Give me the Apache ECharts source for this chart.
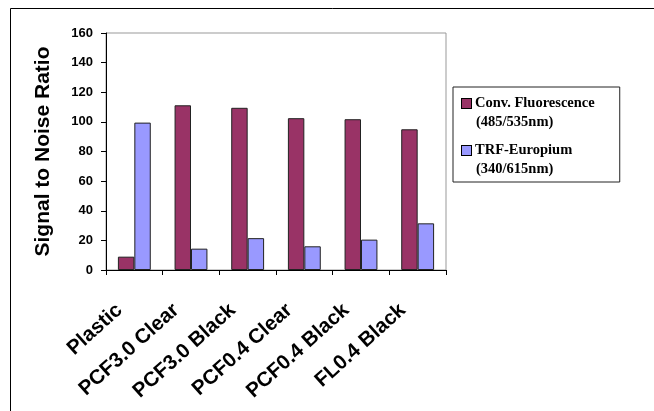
<!DOCTYPE html>
<html>
<head>
<meta charset="utf-8">
<script src="https://cdn.jsdelivr.net/npm/echarts@6/dist/echarts.min.js"></script>
<style>
html,body{margin:0;padding:0;background:#fff;}
#c{width:654px;height:411px;}
</style>
</head>
<body>
<div id="c"></div>
<script>
var categories = ['Plastic', 'PCF3.0 Clear', 'PCF3.0 Black', 'PCF0.4 Clear', 'PCF0.4 Black', 'FL0.4 Black'];
var convFluorescence = [9, 111.2, 109.5, 102.5, 101.8, 95];
var trfEuropium = [99.5, 14.4, 21.5, 16, 20.5, 31.5];
var seriesNames = ['Conv. Fluorescence', 'TRF-Europium'];
var seriesSubtitles = ['(485/535nm)', '(340/615nm)'];
var yTicks = [0, 20, 40, 60, 80, 100, 120, 140, 160];

var colors = ['#993366', '#9999FF'];
var chart = echarts.init(document.getElementById('c'), null, {renderer: 'canvas'});
var sans = '"Liberation Sans", Arial, Helvetica, sans-serif';
var serif = '"Liberation Serif", "Times New Roman", serif';

chart.setOption({
  animation: false,
  backgroundColor: '#fff',
  graphic: [{
    type: 'rect',
    shape: {x: 10.5, y: 8.5, width: 700, height: 500},
    style: {fill: 'none', stroke: '#000', lineWidth: 1},
    silent: true
  }],
  grid: {
    left: 106, top: 33, right: 208, bottom: 141,
    show: true, borderColor: '#999', borderWidth: 1, backgroundColor: 'transparent',
    containLabel: false
  },
  legend: {
    left: 453, top: 87,
    orient: 'vertical',
    icon: 'none',
    itemWidth: 0, itemHeight: 0,
    itemGap: 9,
    padding: [7, 25, 3, 4],
    borderColor: '#222', borderWidth: 1,
    backgroundColor: '#fff',
    data: seriesNames,
    formatter: function (name) {
      var i = seriesNames.indexOf(name);
      return '{m' + i + '|}{g|}{t|' + name + '}\n{s|}{t|' + seriesSubtitles[i] + '}';
    },
    textStyle: {
      fontFamily: serif, fontWeight: 'bold', fontSize: 14.5, color: '#000',
      lineHeight: 19,
      rich: {
        m0: {width: 9, height: 9, backgroundColor: colors[0], borderColor: '#000', borderWidth: 1, verticalAlign: 'middle'},
        m1: {width: 9, height: 9, backgroundColor: colors[1], borderColor: '#000', borderWidth: 1, verticalAlign: 'middle'},
        g: {width: 4},
        s: {width: 14},
        t: {fontFamily: serif, fontWeight: 'bold', fontSize: 14.5, color: '#000', lineHeight: 19, verticalAlign: 'middle'}
      }
    }
  },
  xAxis: {
    type: 'category',
    data: categories,
    axisLine: {show: true, lineStyle: {color: '#000', width: 1}},
    axisTick: {show: true, length: 5, inside: false, alignWithLabel: false, lineStyle: {color: '#000'}},
    axisLabel: {
      interval: 0, rotate: 42, margin: 24,
      padding: [0, 20, 0, 0],
      fontFamily: sans, fontWeight: 'bold', fontSize: 20.5, color: '#000'
    },
    splitLine: {show: false}
  },
  yAxis: {
    type: 'value',
    min: 0, max: 160, interval: 20,
    name: 'Signal to Noise Ratio',
    nameLocation: 'middle',
    nameGap: 52,
    nameTextStyle: {fontFamily: sans, fontWeight: 'bold', fontSize: 21, color: '#000'},
    axisLine: {show: true, lineStyle: {color: '#000', width: 1}},
    axisTick: {show: true, length: 5, inside: false, lineStyle: {color: '#000'}},
    axisLabel: {
      margin: 13,
      fontFamily: sans, fontWeight: 'bold', fontSize: 13, color: '#000',
      formatter: function (v) { return yTicks.indexOf(v) >= 0 ? String(v) : ''; }
    },
    splitLine: {show: false}
  },
  series: [{
    name: seriesNames[0],
    type: 'bar',
    data: convFluorescence,
    barGap: '0%',
    barCategoryGap: '42%',
    itemStyle: {color: colors[0], borderColor: '#222', borderWidth: 1}
  }, {
    name: seriesNames[1],
    type: 'bar',
    data: trfEuropium,
    barGap: '0%',
    barCategoryGap: '42%',
    itemStyle: {color: colors[1], borderColor: '#222', borderWidth: 1}
  }]
});
</script>
</body>
</html>
